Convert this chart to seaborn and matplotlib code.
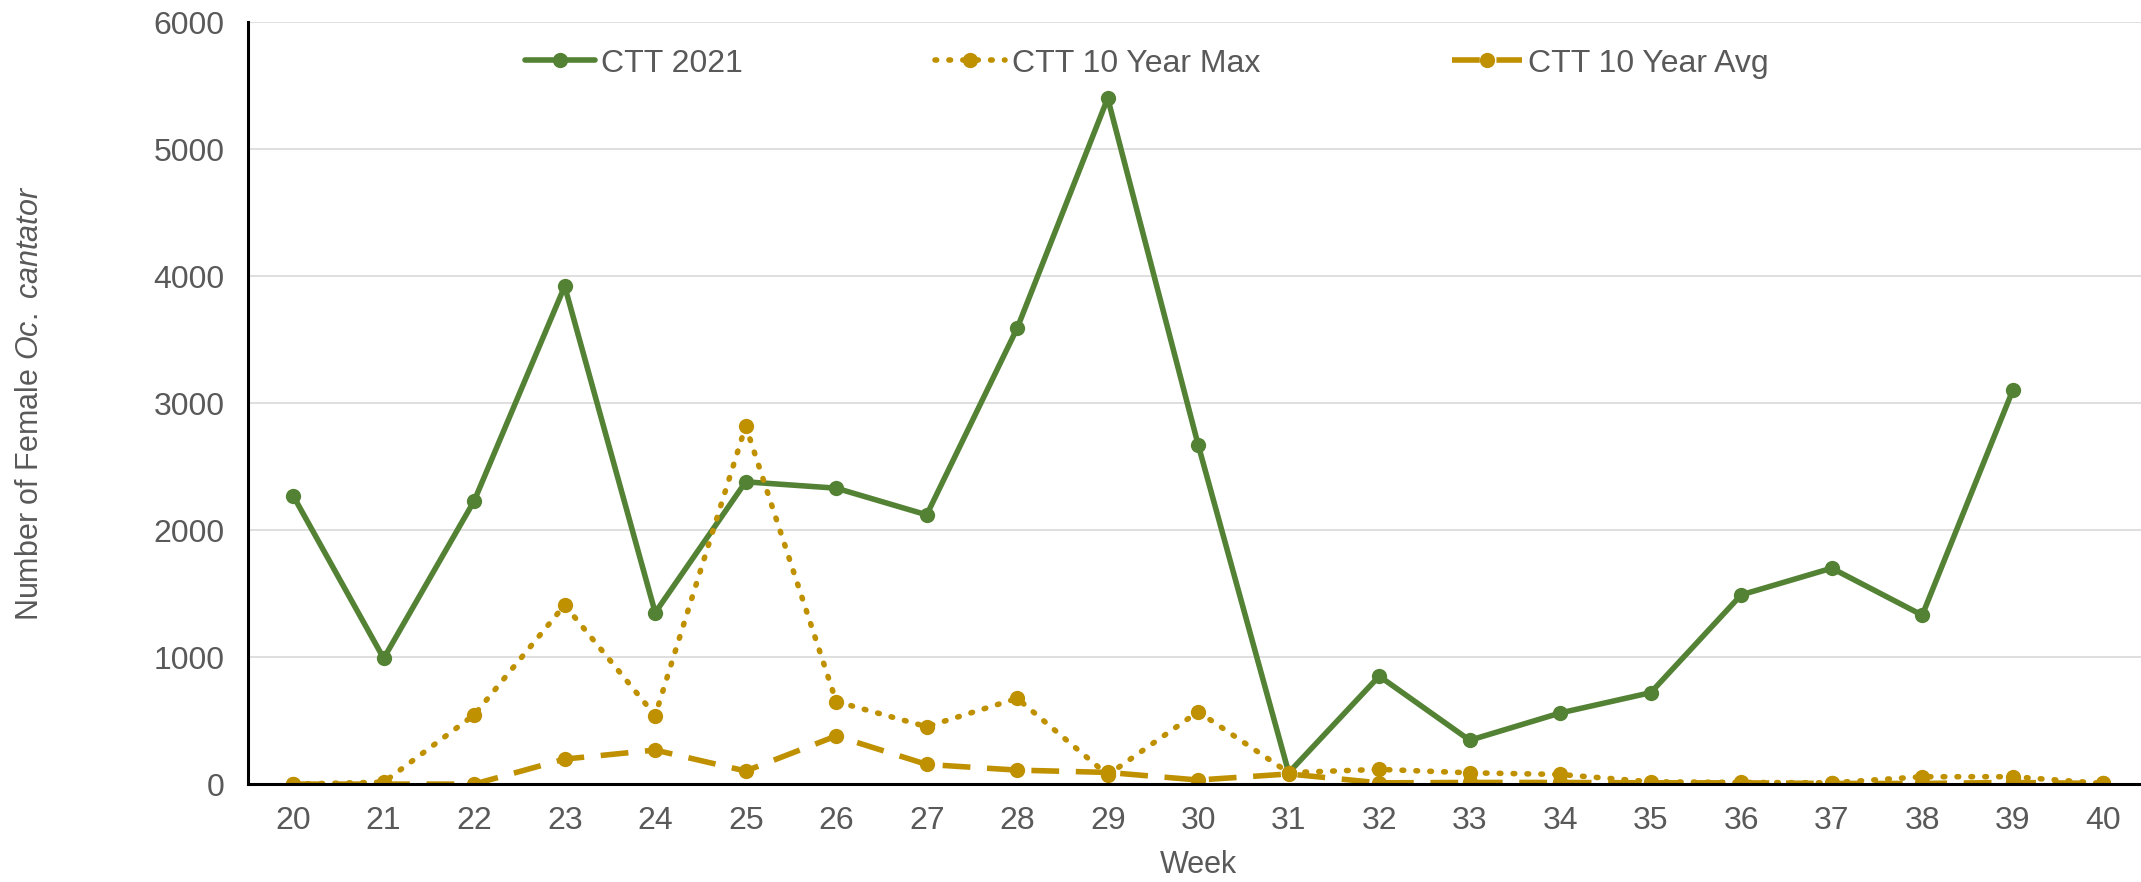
import numpy as np
import pandas as pd
import matplotlib
matplotlib.use("Agg")
import matplotlib.pyplot as plt
import seaborn as sns

# data
weeks = list(range(20, 41))
ctt_2021 = [2270, 990, 2230, 3920, 1350, 2380, 2330, 2120, 3590, 5400, 2670,
            90, 850, 345, 560, 720, 1490, 1700, 1330, 3100, np.nan]
ctt_max = [0, 15, 545, 1410, 540, 2820, 650, 452, 675, 72, 570,
           90, 116, 89, 76, 18, 13, 10, 58, 58, 5]
ctt_avg = [0, 0, 0, 197, 268, 103, 379, 155, 110, 92, 32,
           80, 10, 13, 13, 10, 10, 5, 5, 13, 5]

GREEN = "#548235"
GOLD = "#BF9000"
TEXT = "#595959"

sns.set_theme(style="white")
plt.rcParams["font.family"] = ["Liberation Sans", "DejaVu Sans"]
plt.rcParams["mathtext.fontset"] = "custom"
plt.rcParams["mathtext.it"] = "Liberation Sans:italic"
plt.rcParams["mathtext.rm"] = "Liberation Sans"

df = pd.DataFrame({"week": weeks, "CTT 2021": ctt_2021,
                   "CTT 10 Year Max": ctt_max, "CTT 10 Year Avg": ctt_avg})

fig = plt.figure(figsize=(21.41, 8.82), dpi=100)
ax = fig.add_axes([0.1158, 0.111, 0.8877, 0.864])

sns.lineplot(data=df, x="week", y="CTT 2021", ax=ax, color=GREEN, lw=4,
             marker="o", markersize=11, markeredgewidth=0, label="CTT 2021")
sns.lineplot(data=df, x="week", y="CTT 10 Year Max", ax=ax, color=GOLD, lw=4,
             marker="o", markersize=11, markeredgewidth=0, label="CTT 10 Year Max",
             linestyle=(0, (0.3, 2.2)), dash_capstyle="round")
sns.lineplot(data=df, x="week", y="CTT 10 Year Avg", ax=ax, color=GOLD, lw=4,
             marker="o", markersize=11, markeredgewidth=0, label="CTT 10 Year Avg",
             linestyle=(0, (5, 3)))

ax.set_xlim(19.5, 40.5)
ax.set_ylim(0, 6000)
ax.set_xticks(weeks)
ax.set_yticks(range(0, 6001, 1000))
ax.tick_params(axis="both", labelsize=23, colors=TEXT, length=0)
ax.tick_params(axis="y", pad=17)
ax.tick_params(axis="x", pad=16)
ax.yaxis.grid(True, color="#D9D9D9", lw=1.2)
ax.set_axisbelow(True)
for s in ["top", "right"]:
    ax.spines[s].set_visible(False)
for s in ["left", "bottom"]:
    ax.spines[s].set_color("black")
    ax.spines[s].set_linewidth(2.2)

ax.set_xlabel("Week", fontsize=22, color=TEXT, labelpad=10)
ax.set_ylabel(r"Number of Female $\it{Oc.\ cantator}$", fontsize=22, color=TEXT, labelpad=78)

leg = ax.legend(loc="upper center", bbox_to_anchor=(0.473, 1.003), ncol=3, frameon=False,
                fontsize=23, handlelength=2.2, columnspacing=6.0, handletextpad=0.2)
for t in leg.get_texts():
    t.set_color(TEXT)

fig.savefig("out.png", dpi=100)
